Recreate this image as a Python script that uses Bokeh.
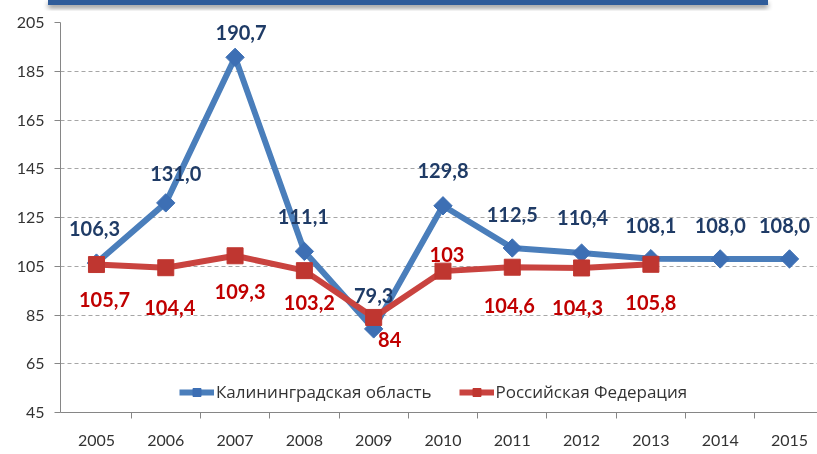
from math import pi
from bokeh.plotting import figure
from bokeh.models import Range1d, FixedTicker, Legend, LegendItem, Div
from bokeh.layouts import column
from bokeh.core.properties import value
from bokeh.embed import file_html
from bokeh.resources import INLINE

# ---- data ----
years = ["2005", "2006", "2007", "2008", "2009", "2010", "2011", "2012", "2013", "2014", "2015"]
kalin = [106.3, 131.0, 190.7, 111.1, 79.3, 129.8, 112.5, 110.4, 108.1, 108.0, 108.0]
russia = [105.7, 104.4, 109.3, 103.2, 84.0, 103.0, 104.6, 104.3, 105.8]
kalin_labels = ["106,3", "131,0", "190,7", "111,1", "79,3", "129,8", "112,5", "110,4", "108,1", "108,0", "108,0"]
russia_labels = ["105,7", "104,4", "109,3", "103,2", "84", "103", "104,6", "104,3", "105,8"]
y_ticks = [45, 65, 85, 105, 125, 145, 165, 185, 205]
series_names = ["Калининградская область", "Российская Федерация"]

# ---- label placement (screen px) ----
kalin_dx = [-2, 10, 6, -1, 0, 0, 0, 1, 0, 0, -5]
kalin_dy = [-35, -29, -25, -35, -33, -35, -33, -36, -33, -33, -33]
russia_dx = [8, 4, 5, 5, 16, 4, -3, -4, 0]
russia_dy = [35, 40, 36, 32, 22, -17, 38, 40, 38]

xs = list(range(len(years)))
xs_r = xs[:len(russia)]

BLUE = "#4a7ebb"
BLUE_M = "#3d6fb4"
RED = "#c9433f"
RED_M = "#bf3630"

p = figure(width=817, height=438, output_backend="svg", toolbar_location=None,
           x_range=Range1d(-0.519, 10.404), y_range=Range1d(45, 205),
           min_border_left=60, min_border_top=12, min_border_right=0, min_border_bottom=35)
p.outline_line_color = None
p.background_fill_color = "white"
p.border_fill_color = "white"

# x axis
p.xaxis.ticker = FixedTicker(ticks=xs, minor_ticks=[i + 0.5 for i in xs[:-1]])
p.xaxis.major_label_overrides = {i: y for i, y in enumerate(years)}
p.xaxis.major_tick_out = 0
p.xaxis.major_tick_in = 0
p.xaxis.minor_tick_out = 6
p.xaxis.minor_tick_in = 0
p.xaxis.axis_line_color = "#868686"
p.xaxis.minor_tick_line_color = "#868686"
p.xaxis.major_label_standoff = 16
p.xaxis.major_label_text_font = "Lato"
p.xaxis.major_label_text_font_size = "16px"
p.xaxis.major_label_text_color = "#333333"
p.xgrid.visible = False

# y axis
p.yaxis.ticker = FixedTicker(ticks=y_ticks)
p.yaxis.minor_tick_line_color = None
p.yaxis.major_tick_out = 6
p.yaxis.major_tick_in = 0
p.yaxis.major_tick_line_color = "#868686"
p.yaxis.axis_line_color = "#868686"
p.yaxis.major_label_standoff = 10
p.yaxis.major_label_text_font = "Lato"
p.yaxis.major_label_text_font_size = "16px"
p.yaxis.major_label_text_color = "#333333"
p.ygrid.grid_line_color = "#a6a6a6"
p.ygrid.grid_line_dash = "4 3"
p.ygrid.grid_line_width = 1

# series
lk = p.line(xs, kalin, line_width=6, color=BLUE)
mk = p.scatter(xs, kalin, marker="square", angle=pi / 4, size=13,
               fill_color=BLUE_M, line_color=BLUE_M)
lr = p.line(xs_r, russia, line_width=6, color=RED)
mr = p.scatter(xs_r, russia, marker="square", size=16, fill_color=RED_M, line_color=RED_M)

# data labels
p.text(x=xs, y=kalin, text=kalin_labels, x_offset=kalin_dx, y_offset=kalin_dy,
       text_align="center", text_baseline="middle", text_font=value("Lato"),
       text_font_style="bold", text_font_size="20px", text_color="#1f3b66")
p.text(x=xs_r, y=russia, text=russia_labels, x_offset=russia_dx, y_offset=russia_dy,
       text_align="center", text_baseline="middle", text_font=value("Lato"),
       text_font_style="bold", text_font_size="20px", text_color="#c00000")

legend = Legend(items=[LegendItem(label=series_names[0], renderers=[lk, mk]),
                       LegendItem(label=series_names[1], renderers=[lr, mr])],
                location=(119, 9), orientation="horizontal",
                background_fill_color="white", background_fill_alpha=1.0,
                border_line_color=None, padding=10, spacing=27, margin=0,
                glyph_width=35, glyph_height=20, label_standoff=2,
                label_text_font="Open Sans", label_text_font_size="17px",
                label_text_color="#333333", label_text_baseline="middle")
p.add_layout(legend)

banner = Div(text='<div style="position:fixed;top:0;left:48px;width:720px;height:5px;'
                  'background:#2f5c9a;box-shadow:0 3px 5px rgba(0,0,0,0.45);"></div>',
             width=0, height=0)

layout = column(banner, p)
open("out.html", "w").write(file_html(layout, INLINE))
